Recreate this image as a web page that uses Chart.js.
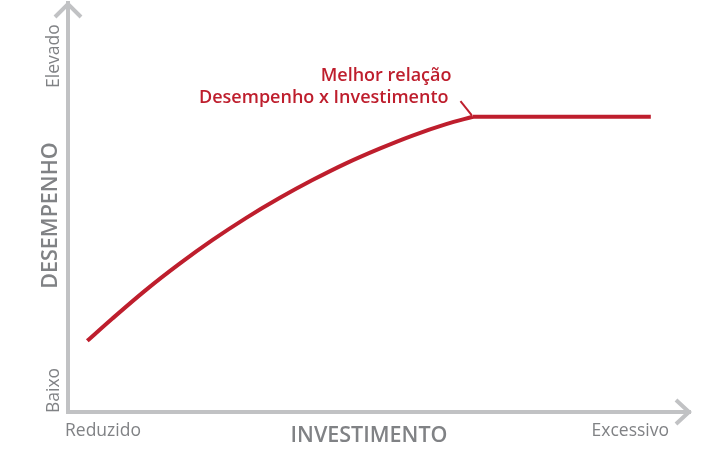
<!DOCTYPE html>
<html>
<head>
<meta charset="utf-8">
<script src="https://cdn.jsdelivr.net/npm/chart.js@4"></script>
<style>
  html, body { margin: 0; padding: 0; background: #ffffff; }
  #c { display: block; }
</style>
</head>
<body>
<canvas id="c" width="727" height="455"></canvas>
<script>
// ---- data ----
const investimento = [3.1, 7.1, 12.5, 17.9, 23.2, 28.6, 34.0, 39.3, 44.7, 50.1, 55.4, 60.8, 65.1];
const desempenho   = [17.4, 22.8, 29.8, 36.2, 42.0, 47.4, 52.3, 56.7, 60.8, 64.4, 67.6, 70.4, 72.2];
const plateauX = [65.1, 93.7];
const plateauY = [72.2, 72.2];
const leaderX = [63.1, 64.9];
const leaderY = [76.0, 72.6];
const yEndLabels = ['Baixo', 'Elevado'];
const xEndLabels = ['Reduzido', 'Excessivo'];
const yTitle = 'DESEMPENHO';
const xTitle = 'INVESTIMENTO';
const noteLines = ['Melhor relação', 'Desempenho x Investimento'];

const RED = '#be1e2d';
const AXIS = '#c1c2c4';
const TEXT = '#808285';
const FONT = '"Open Sans", "Liberation Sans", sans-serif';

const toPts = (xs, ys) => xs.map((x, i) => ({ x: x, y: ys[i] }));

const decor = {
  id: 'decor',
  afterDraw(chart) {
    const ctx = chart.ctx;
    const xs = chart.scales.x, ys = chart.scales.y;
    const ca = chart.chartArea;
    ctx.save();
    // arrowheads
    ctx.strokeStyle = AXIS;
    ctx.lineWidth = 4;
    ctx.lineCap = 'butt';
    ctx.lineJoin = 'miter';
    ctx.beginPath();
    ctx.moveTo(ca.left - 13, ca.top + 14);
    ctx.lineTo(ca.left, ca.top + 1);
    ctx.lineTo(ca.left + 13, ca.top + 14);
    ctx.stroke();
    ctx.beginPath();
    ctx.moveTo(ca.right - 14, ca.bottom - 12);
    ctx.lineTo(ca.right - 1, ca.bottom);
    ctx.lineTo(ca.right - 14, ca.bottom + 12);
    ctx.stroke();

    // y end labels (rotated)
    ctx.fillStyle = TEXT;
    ctx.font = '17.5px ' + FONT;
    ctx.textBaseline = 'alphabetic';
    const drawRot = (txt, x, y, align) => {
      ctx.save();
      ctx.translate(x, y);
      ctx.rotate(-Math.PI / 2);
      ctx.textAlign = align;
      ctx.fillText(txt, 0, 0);
      ctx.restore();
    };
    drawRot(yEndLabels[0], ca.left - 9, ys.getPixelForValue(ys.min) + 1, 'left');
    drawRot(yEndLabels[1], ca.left - 9, ys.getPixelForValue(ys.max) + 85, 'left');
    ctx.font = '600 21.5px ' + FONT;
    drawRot(yTitle, ca.left - 11, (ca.top + ca.bottom) / 2 + 8, 'center');

    // x end labels
    ctx.font = '17.5px ' + FONT;
    ctx.textAlign = 'left';
    ctx.fillText(xEndLabels[0], xs.getPixelForValue(xs.min) - 3, ca.bottom + 24);
    ctx.textAlign = 'right';
    ctx.fillText(xEndLabels[1], xs.getPixelForValue(xs.max) - 21, ca.bottom + 24);
    ctx.font = '600 21.5px ' + FONT;
    ctx.textAlign = 'center';
    ctx.fillText(xTitle, (ca.left + ca.right) / 2 - 10, ca.bottom + 30);

    // annotation
    ctx.fillStyle = RED;
    ctx.font = '600 18px ' + FONT;
    ctx.textAlign = 'right';
    const ax = xs.getPixelForValue(leaderX[0]) - 9;
    const ay = ys.getPixelForValue(leaderY[0]);
    ctx.fillText(noteLines[0], ax, ay - 20);
    ctx.fillText(noteLines[1], ax - 3, ay + 2);
    ctx.restore();
  }
};

new Chart(document.getElementById('c'), {
  type: 'line',
  data: {
    datasets: [
      {
        data: toPts(investimento, desempenho),
        borderColor: RED,
        borderWidth: 4,
        pointRadius: 0,
        cubicInterpolationMode: 'monotone',
        fill: false
      },
      {
        data: toPts(plateauX, plateauY),
        borderColor: RED,
        borderWidth: 4,
        pointRadius: 0,
        tension: 0,
        fill: false
      },
      {
        data: toPts(leaderX, leaderY),
        borderColor: RED,
        borderWidth: 2,
        pointRadius: 0,
        tension: 0,
        fill: false
      }
    ]
  },
  options: {
    responsive: false,
    animation: false,
    devicePixelRatio: 1,
    layout: { padding: { left: 68, right: 37, top: 3, bottom: 43 } },
    plugins: { legend: { display: false }, tooltip: { enabled: false } },
    scales: {
      x: {
        type: 'linear', min: 0, max: 100,
        grid: { display: false, drawTicks: false },
        ticks: { display: false },
        border: { display: true, color: AXIS, width: 4 }
      },
      y: {
        type: 'linear', min: 0, max: 100,
        grid: { display: false, drawTicks: false },
        ticks: { display: false },
        border: { display: true, color: AXIS, width: 4 }
      }
    }
  },
  plugins: [decor]
});
</script>
</body>
</html>
